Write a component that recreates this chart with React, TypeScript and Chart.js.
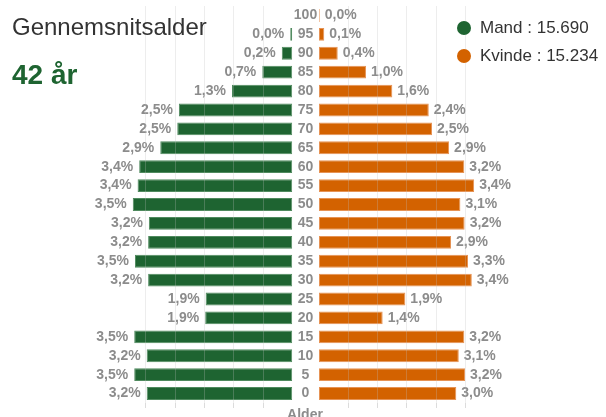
import React, { useEffect, useRef } from "react";
import { Chart, registerables } from "chart.js";

Chart.register(...registerables);

// ---- data ----
const ageLabels = ["100", "95", "90", "85", "80", "75", "70", "65", "60", "55", "50", "45", "40", "35", "30", "25", "20", "15", "10", "5", "0"];
const menValues: (number | null)[] = [null, 14, 72, 205, 412, 775, 786, 902, 1046, 1057, 1090, 980, 985, 1075, 985, 592, 595, 1080, 995, 1080, 995];
const womenValues: (number | null)[] = [5, 36, 128, 321, 501, 750, 772, 889, 993, 1060, 966, 995, 902, 1018, 1044, 590, 435, 993, 955, 998, 938];
const totalMen = 15690;
const totalWomen = 15234;
const averageAge = 42;
const gridTickValues = [200, 400, 600, 800, 1000];
const axisMax = 1100;

const GREEN = "#1e6431";
const GREEN_BORDER = "#4f8a5e";
const ORANGE = "#d36200";
const ORANGE_BORDER = "#e69355";
const FONT = "'Liberation Sans', Arial, sans-serif";

const fmtThousands = (n: number) => String(n).replace(/\B(?=(\d{3})+(?!\d))/g, ".");
const pctText = (v: number) => ((v / (totalMen + totalWomen)) * 100).toFixed(1).replace(".", ",") + "%";

function makeValueLabelPlugin(side: "left" | "right") {
  return {
    id: "valueLabels_" + side,
    afterDatasetsDraw(chart: any) {
      const ctx = chart.ctx;
      const meta = chart.getDatasetMeta(0);
      const data = chart.data.datasets[0].data as (number | null)[];
      ctx.save();
      ctx.font = `bold 14px ${FONT}`;
      ctx.fillStyle = "#8c8c8c";
      ctx.textBaseline = "middle";
      meta.data.forEach((el: any, i: number) => {
        const v = data[i];
        if (v == null) return;
        if (side === "left") {
          ctx.textAlign = "right";
          ctx.fillText(pctText(v), el.x - 6, el.y);
        } else {
          ctx.textAlign = "left";
          ctx.fillText(pctText(v), el.x + 5, el.y);
        }
      });
      ctx.restore();
    },
  };
}

const categoryLabelPlugin = {
  id: "categoryLabels",
  afterDatasetsDraw(chart: any) {
    const ctx = chart.ctx;
    const y = chart.scales.y;
    ctx.save();
    ctx.font = `bold 14px ${FONT}`;
    ctx.fillStyle = "#8c8c8c";
    ctx.textAlign = "center";
    ctx.textBaseline = "middle";
    ageLabels.forEach((lab, i) => {
      ctx.fillText(lab, 17.5, y.getPixelForValue(i));
    });
    ctx.restore();
  },
};

function buildConfig(side: "left" | "right"): any {
  const isLeft = side === "left";
  return {
    type: "bar",
    data: {
      labels: ageLabels,
      datasets: [
        {
          label: isLeft ? "Mand" : "Kvinde",
          data: isLeft ? menValues : womenValues,
          backgroundColor: isLeft ? GREEN : ORANGE,
          borderColor: isLeft ? GREEN_BORDER : ORANGE_BORDER,
          borderWidth: 1,
          borderSkipped: false,
          barPercentage: 0.68,
          categoryPercentage: 1,
        },
      ],
    },
    options: {
      indexAxis: "y",
      responsive: false,
      animation: false,
      devicePixelRatio: 1,
      layout: {
        padding: isLeft
          ? { left: 41.3, right: 2.7, top: 6, bottom: 0 }
          : { left: 31, right: 126, top: 6, bottom: 0 },
      },
      plugins: { legend: { display: false }, tooltip: { enabled: false } },
      scales: {
        x: {
          min: 0,
          max: axisMax,
          reverse: isLeft,
          border: { display: false },
          ticks: { display: false },
          grid: {
            z: 1,
            color: "rgba(190,190,190,0.28)",
            tickColor: "#dcdcdc",
            tickLength: 5,
            drawTicks: true,
          },
          afterBuildTicks: (s: any) => {
            s.ticks = gridTickValues.map((value) => ({ value }));
          },
          afterFit: (s: any) => {
            s.height = 14;
          },
        },
        y: { display: false, grid: { display: false } },
      },
    },
    plugins: isLeft ? [makeValueLabelPlugin("left")] : [makeValueLabelPlugin("right"), categoryLabelPlugin],
  };
}

export default function App() {
  const leftRef = useRef<HTMLCanvasElement>(null);
  const rightRef = useRef<HTMLCanvasElement>(null);

  useEffect(() => {
    const left = new Chart(leftRef.current as HTMLCanvasElement, buildConfig("left"));
    const right = new Chart(rightRef.current as HTMLCanvasElement, buildConfig("right"));
    return () => {
      left.destroy();
      right.destroy();
    };
  }, []);

  const abs = (s: React.CSSProperties): React.CSSProperties => ({ position: "absolute", whiteSpace: "nowrap", ...s });

  return (
    <div style={{ position: "fixed", left: 0, top: 0, width: 606, height: 417, background: "#fff", overflow: "hidden", fontFamily: FONT }}>
      <canvas ref={leftRef} width={205} height={417} style={{ position: "absolute", left: 90, top: 0, width: 205, height: 417 }} />
      <canvas ref={rightRef} width={318} height={417} style={{ position: "absolute", left: 288, top: 0, width: 318, height: 417 }} />
      <div style={abs({ left: 12, top: 15, fontSize: 24, lineHeight: "24px", color: "#333" })}>Gennemsnitsalder</div>
      <div style={abs({ left: 12, top: 60.5, fontSize: 28, lineHeight: "28px", fontWeight: "bold", color: GREEN })}>{averageAge} år</div>
      <div style={abs({ left: 456.5, top: 20.5, width: 14, height: 14, borderRadius: "50%", background: GREEN })} />
      <div style={abs({ left: 480, top: 18.6, fontSize: 17, lineHeight: "17px", color: "#333" })}>Mand : {fmtThousands(totalMen)}</div>
      <div style={abs({ left: 456.5, top: 48.5, width: 14, height: 14, borderRadius: "50%", background: ORANGE })} />
      <div style={abs({ left: 480, top: 47.3, fontSize: 17, lineHeight: "17px", color: "#333" })}>Kvinde : {fmtThousands(totalWomen)}</div>
      <div style={abs({ left: 255, width: 100, textAlign: "center", top: 406.5, fontSize: 14, lineHeight: "14px", fontWeight: "bold", color: "#8c8c8c" })}>Alder</div>
    </div>
  );
}
